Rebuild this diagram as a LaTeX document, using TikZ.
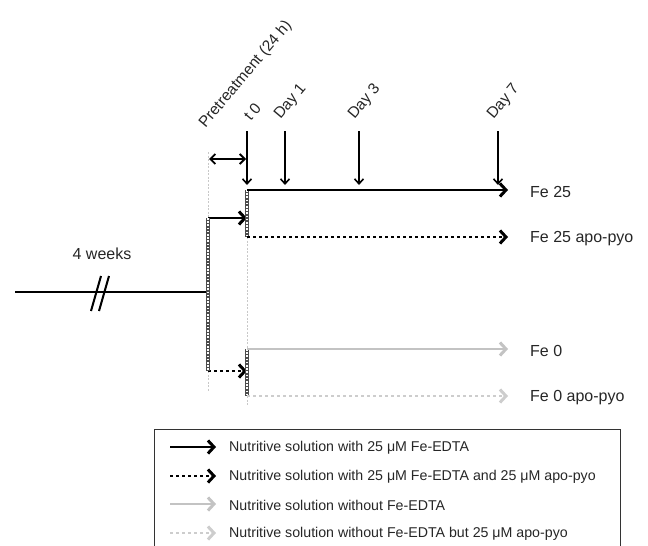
\documentclass[tikz,border=0pt]{standalone}
\usepackage{fontspec}
\setmainfont{Liberation Sans}
\usetikzlibrary{arrows.meta}
\definecolor{lgray}{RGB}{195,195,195}
\definecolor{vlgray}{RGB}{205,205,205}
\definecolor{guide}{RGB}{200,200,200}
\begin{document}
\begin{tikzpicture}[x=1pt,y=-1pt,
  tip/.style={-{Straight Barb[length=6pt,width=13pt,line width=3pt]}},
  solidarr/.style={line width=2.6pt,tip},
  dotarr/.style={line width=2.6pt,tip,dash pattern=on 3pt off 3pt},
  lbl/.style={font=\fontsize{16}{18}\selectfont,anchor=west,inner sep=0pt,text=black!85},
  rlbl/.style={font=\fontsize{15.5}{18}\selectfont,anchor=south west,inner sep=0pt,rotate=50,text=black!85},
  leg/.style={font=\fontsize{14.2}{16}\selectfont,anchor=west,inner sep=0pt,text=black!85},
  guideline/.style={guide,line width=0.8pt,dash pattern=on 2pt off 1.5pt},
  down/.style={line width=1.6pt,-{Straight Barb[length=5pt,width=9pt,line width=1.6pt]}},
]
\useasboundingbox (0,0) rectangle (648,546);
\clip (0,0) rectangle (648,546);

% coordinates
\coordinate (start) at (15,292);
\coordinate (LB) at (208,292);
\coordinate (LBtop) at (208,218);
\coordinate (LBbot) at (208,371);
\coordinate (UBtop) at (247,190);
\coordinate (UBbot) at (247,237);
\coordinate (DBtop) at (247,349);
\coordinate (DBbot) at (247,396);

% guide lines
\draw[guideline] (208,152) -- (LBtop);
\draw[guideline] (LBbot) -- (208,392);
\draw[guideline] (UBbot) -- (DBtop);
\draw[guideline] (DBbot) -- (247,405);

% main line
\draw[line width=2.6pt] (start) -- (LB);
\draw[line width=2pt] (91,311) -- (101,276);
\draw[line width=2pt] (99,311) -- (109,276);
\node[font=\fontsize{16}{18}\selectfont,text=black!85] (weeks) at (102,254) {4 weeks};

% branch arrows
\draw[solidarr] (LBtop) -- (247,218);
\draw[dotarr] (LBbot) -- (247,371);
\draw[line width=1.8pt,{Straight Barb[length=5pt,width=10pt,line width=1.8pt]}-{Straight Barb[length=5pt,width=10pt,line width=1.8pt]}] (209,159) -- (246,159);

% hatched bars
\foreach \a/\b in {LBtop/LBbot,UBtop/UBbot,DBtop/DBbot}{
  \draw[line width=4.5pt,black!70] (\a) -- (\b);
  \draw[line width=1.6pt,white,dash pattern=on 1.6pt off 1.6pt] (\a) -- (\b);
}

% treatment arrows
\coordinate (e1) at (508,190);
\coordinate (e2) at (508,237);
\coordinate (e3) at (508,349);
\coordinate (e4) at (508,396);
\draw[solidarr] (UBtop) -- (e1);
\draw[dotarr] (UBbot) -- (e2);
\draw[solidarr,lgray] (DBtop) -- (e3);
\draw[dotarr,vlgray] (DBbot) -- (e4);
\node[lbl] (f1) at (530,192) {Fe 25};
\node[lbl] (f2) at (530,239) {Fe 25 apo-pyo};
\node[lbl] (f3) at (530,351) {Fe 0};
\node[lbl] (f4) at (530,398) {Fe 0 apo-pyo};

% time arrows
\foreach \x/\n in {247/t0,285/d1,359/d3,498/d7}{
  \coordinate (\n top) at (\x,131);
  \coordinate (\n bot) at (\x,185);
  \draw[down] (\n top) -- (\n bot);
}
\node[rlbl] (pre) at (208,131) {Pretreatment (24 h)};
\node[rlbl] (t0l) at (251,122) {t 0};
\node[rlbl] (d1l) at (283,122) {Day 1};
\node[rlbl] (d3l) at (357,122) {Day 3};
\node[rlbl] (d7l) at (496,122) {Day 7};

% legend
\draw[line width=1pt,black!80] (154,429) rectangle (620,570);
\coordinate (la1) at (170,447); \coordinate (lb1) at (216,447);
\coordinate (la2) at (170,476); \coordinate (lb2) at (216,476);
\coordinate (la3) at (170,504); \coordinate (lb3) at (216,504);
\coordinate (la4) at (170,533); \coordinate (lb4) at (216,533);
\draw[solidarr] (la1) -- (lb1);
\draw[dotarr] (la2) -- (lb2);
\draw[solidarr,lgray] (la3) -- (lb3);
\draw[dotarr,vlgray] (la4) -- (lb4);
\node[leg] (t1) at (229,448) {Nutritive solution with 25 μM Fe-EDTA};
\node[leg] (t2) at (229,477) {Nutritive solution with 25 μM Fe-EDTA and 25 μM apo-pyo};
\node[leg] (t3) at (229,505) {Nutritive solution without Fe-EDTA};
\node[leg] (t4) at (229,534) {Nutritive solution without Fe-EDTA but 25 μM apo-pyo};
\end{tikzpicture}
\end{document}
